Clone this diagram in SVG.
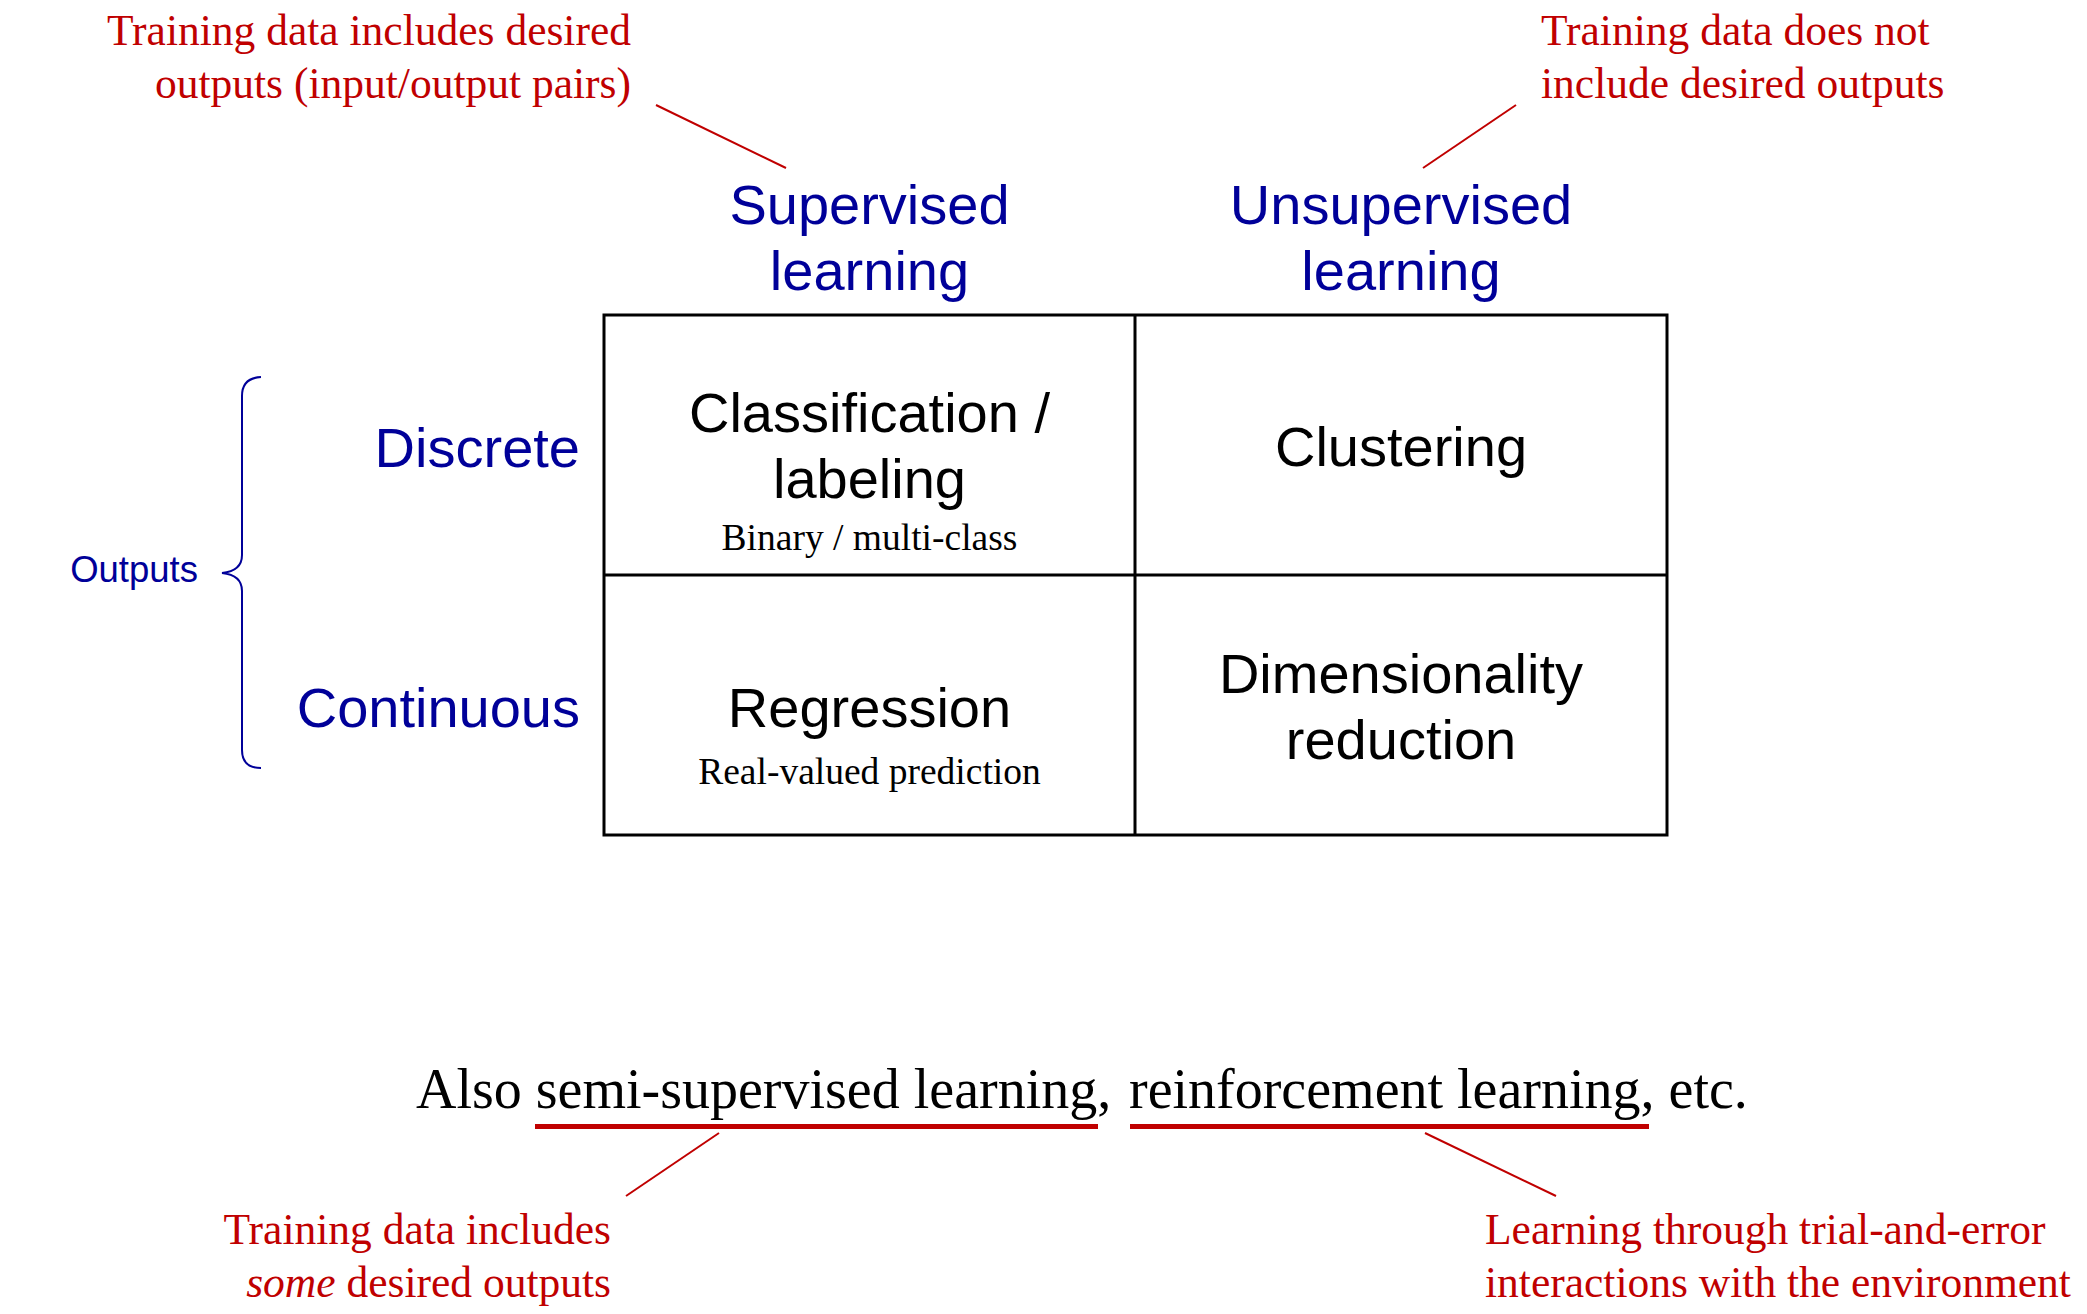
<svg xmlns="http://www.w3.org/2000/svg" width="2087" height="1314" viewBox="0 0 2087 1314">
<style>
.hd{font-family:"Liberation Sans",Arial,sans-serif;font-size:56px;fill:#000099;}
.cell{font-family:"Liberation Sans",Arial,sans-serif;font-size:56px;fill:#000;text-anchor:middle;}
.sub{font-family:"Liberation Serif","Times New Roman",serif;font-size:37.5px;fill:#000;text-anchor:middle;}
.note{font-family:"Liberation Serif","Times New Roman",serif;font-size:43.5px;fill:#c00000;}
.main{font-family:"Liberation Serif","Times New Roman",serif;font-size:56px;fill:#000;}
.lead{stroke:#c00000;stroke-width:2;fill:none;}
.ul{stroke:#c00000;stroke-width:5;fill:none;}
.grid{stroke:#000;stroke-width:3;fill:none;}
</style>
<rect width="2087" height="1314" fill="#fff"/>

<g id="grid">
<rect class="grid" x="604" y="315" width="1063" height="520"/>
<line class="grid" x1="1135" y1="315" x2="1135" y2="835"/>
<line class="grid" x1="604" y1="575" x2="1667" y2="575"/>
</g>

<g id="col-supervised">
<text class="hd" x="869.5" y="224" text-anchor="middle">Supervised</text>
<text class="hd" x="869.5" y="290" text-anchor="middle">learning</text>
</g>
<g id="col-unsupervised">
<text class="hd" x="1401" y="224" text-anchor="middle">Unsupervised</text>
<text class="hd" x="1401" y="290" text-anchor="middle">learning</text>
</g>

<g id="row-discrete"><text class="hd" x="580" y="466.5" text-anchor="end">Discrete</text></g>
<g id="row-continuous"><text class="hd" x="580" y="727" text-anchor="end">Continuous</text></g>

<g id="outputs">
<text class="hd" x="198" y="582" text-anchor="end" style="font-size:36.5px">Outputs</text>
<path d="M261 377 Q242 378 242 396 L242 555 Q242 571 222 573 Q242 575 242 591 L242 750 Q242 768 261 768" fill="none" stroke="#000099" stroke-width="2"/>
</g>

<g id="cell-classification">
<text class="cell" x="869.5" y="432">Classification /</text>
<text class="cell" x="869.5" y="498">labeling</text>
<text class="sub" x="869.5" y="550">Binary / multi-class</text>
</g>
<g id="cell-clustering">
<text class="cell" x="1401" y="466">Clustering</text>
</g>
<g id="cell-regression">
<text class="cell" x="869.5" y="727">Regression</text>
<text class="sub" x="869.5" y="784">Real-valued prediction</text>
</g>
<g id="cell-dimred">
<text class="cell" x="1401" y="693">Dimensionality</text>
<text class="cell" x="1401" y="759">reduction</text>
</g>

<g id="note-supervised">
<text class="note" x="631" y="45" text-anchor="end">Training data includes desired</text>
<text class="note" x="631" y="98" text-anchor="end">outputs (input/output pairs)</text>
</g>
<g id="note-unsupervised">
<text class="note" x="1541" y="45">Training data does not</text>
<text class="note" x="1541" y="98">include desired outputs</text>
</g>

<g id="also">
<text class="main" y="1108"><tspan x="416">Also </tspan><tspan x="535.8">semi-supervised learning,</tspan><tspan x="1129">reinforcement learning, etc.</tspan></text>
</g>

<g id="note-semi">
<text class="note" x="611" y="1244" text-anchor="end">Training data includes</text>
<text class="note" x="611" y="1297" text-anchor="end"><tspan font-style="italic">some</tspan> desired outputs</text>
</g>
<g id="note-rl">
<text class="note" x="1485" y="1244">Learning through trial-and-error</text>
<text class="note" x="1485" y="1297">interactions with the environment</text>
</g>

<g id="connectors">
<line class="lead" x1="656" y1="105" x2="786" y2="168"/>
<line class="lead" x1="1516" y1="105" x2="1423" y2="168"/>
<line class="ul" x1="535" y1="1126.5" x2="1098" y2="1126.5"/>
<line class="ul" x1="1130" y1="1126.5" x2="1649" y2="1126.5"/>
<line class="lead" x1="719" y1="1133" x2="626" y2="1196"/>
<line class="lead" x1="1425" y1="1133" x2="1556" y2="1196"/>
</g>
</svg>
